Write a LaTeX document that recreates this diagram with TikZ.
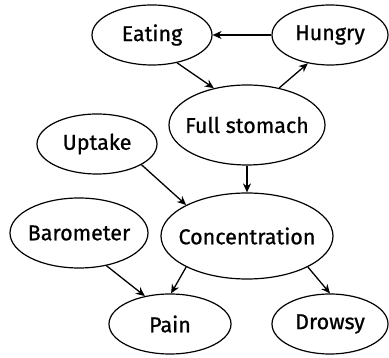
\documentclass[tikz,border=0pt]{standalone}
\usepackage{fontspec}
\setmainfont{Fira Sans}[Ligatures=NoCommon,FakeBold=0.8]
\usetikzlibrary{shapes.geometric,arrows.meta}
\begin{document}
\begin{tikzpicture}[x=1pt,y=-1pt,
  var/.style={ellipse,draw,line width=1.2pt,inner sep=0pt},
  lab/.style={font=\fontsize{21.5}{24}\selectfont,inner sep=0pt},
  link/.style={line width=1.3pt,-{Stealth[length=9pt,width=8pt]}}]
\useasboundingbox (0,0) rectangle (389,358);
% variables: fixed-size ellipses, names set as centred labels
\node[var,minimum width=120pt,minimum height=60pt,label={[lab]center:Eating}] (eat) at (152,35) {};
\node[var,minimum width=116pt,minimum height=60pt,label={[lab]center:Hungry}] (hun) at (330,35) {};
\node[var,minimum width=156pt,minimum height=80pt,label={[lab]center:Full stomach}] (full) at (247,125) {};
\node[var,minimum width=120pt,minimum height=60pt,label={[lab]center:Uptake}] (upt) at (97,144) {};
\node[var,minimum width=172pt,minimum height=86pt,label={[lab]center:Concentration}] (conc) at (247,236) {};
\node[var,minimum width=138pt,minimum height=70pt,label={[lab]center:Barometer}] (baro) at (79,233) {};
\node[var,minimum width=122pt,minimum height=60pt,label={[lab]center:Pain}] (pain) at (170,324) {};
\node[var,minimum width=116pt,minimum height=60pt,label={[lab]center:Drowsy}] (drow) at (330,324) {};
% dependencies
\draw[link] (hun.180) -- (eat.0);
\draw[link] (eat.-48) -- (full.132);
\draw[link] (full.49) -- (hun.232);
\draw[link] (full.270) -- (conc.90);
\draw[link] (upt.-25) -- (conc.153);
\draw[link] (baro.-50) -- (pain.132);
\draw[link] (conc.207) -- (pain.88);
\draw[link] (conc.-27) -- (drow.90);
\end{tikzpicture}
\end{document}
